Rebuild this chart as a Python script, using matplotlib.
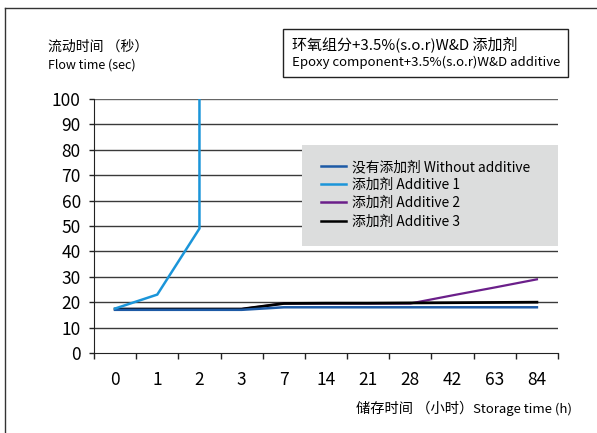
import numpy as np
import matplotlib
matplotlib.use('Agg')
import matplotlib.pyplot as plt
from matplotlib.patches import Rectangle
from matplotlib.lines import Line2D

plt.rcParams['font.family'] = ['Noto Sans CJK SC', 'DejaVu Sans']

## data
storage_labels = ['0', '1', '2', '3', '7', '14', '21', '28', '42', '63', '84']
without_additive = [17, 17, 17, 17, 18, 18, 18, 18, 18, 18, 18]
additive1_idx = [0, 1, 2, 2]
additive1 = [17.5, 23, 49, 100]
additive2 = [17.3, 17.3, 17.3, 17.3, 19.5, 19.5, 19.5, 19.5, 22.7, 25.8, 29]
additive3 = [17.3, 17.3, 17.3, 17.3, 19.5, 19.6, 19.6, 19.7, 19.8, 19.9, 20]
y_ticks = list(range(0, 101, 10))

series_names = ['没有添加剂 Without additive', '添加剂 Additive 1',
                '添加剂 Additive 2', '添加剂 Additive 3']
colors = ['#1d5aa6', '#1b95d9', '#6b1f8a', '#000000']

W, H = 597, 433
fig = plt.figure(figsize=(W / 100, H / 100), dpi=100)

# axes box in pixels: x 94..558, y 99..353
ax = fig.add_axes([94 / W, (H - 353) / H, (558 - 94) / W, (353 - 99) / H])

x = np.arange(len(storage_labels))

# grid lines
for yv in y_ticks[1:]:
    ax.axhline(yv, color='#3a3a3a' if yv < 100 else '#666666', lw=1.0, zorder=1)

ax.plot(x, additive2, color=colors[2], lw=1.6, zorder=3)
ax.plot(x, additive3, color=colors[3], lw=2.0, zorder=4)
ax.plot(x, without_additive, color=colors[0], lw=1.8, zorder=5)
ax.plot(additive1_idx, additive1, color=colors[1], lw=1.8, zorder=6, solid_joinstyle='miter')

ax.set_xlim(-0.5, len(storage_labels) - 0.5)
ax.set_ylim(0, 100)

ax.set_yticks(y_ticks)
ax.set_yticklabels([str(v) for v in y_ticks])
ax.tick_params(axis='y', direction='out', length=3.5, width=1, pad=6,
               labelsize=12.5, color='#222222')
ax.set_xticks(x)
ax.set_xticklabels(storage_labels)
ax.set_xticks(np.arange(len(storage_labels) + 1) - 0.5, minor=True)
ax.tick_params(axis='x', which='major', length=0, pad=13, labelsize=12.5)
ax.tick_params(axis='x', which='minor', direction='out', length=4, width=1,
               color='#222222')

for s in ['top', 'right']:
    ax.spines[s].set_visible(False)
ax.spines['left'].set_color('#222222')
ax.spines['bottom'].set_color('#222222')
ax.spines['left'].set_zorder(7)

# legend panel (grey box covering the grid)
ax.add_patch(Rectangle((0.448, 0.421), 1.0 - 0.448, 0.819 - 0.421,
                       transform=ax.transAxes, facecolor='#dcdddd',
                       edgecolor='none', zorder=8))
handles = [Line2D([], [], color=c, lw=1.8) for c in colors]
leg = ax.legend(handles, series_names, loc='upper left',
                bbox_to_anchor=(0.49, 0.76), frameon=False,
                fontsize=9.9, handlelength=1.8, handletextpad=0.45,
                labelspacing=0.3, borderpad=0, borderaxespad=0)
leg.set_zorder(9)

renderer = fig.canvas.get_renderer()


def mixed_text(x_px, y_px, cjk, latin, cjk_size, latin_size, align='left'):
    # chinese part and latin part drawn at slightly different sizes
    if align == 'left':
        t1 = fig.text(x_px / W, 1 - y_px / H, cjk, fontsize=cjk_size,
                      va='center', ha='left')
        bb = t1.get_window_extent(renderer)
        fig.text(bb.x1 / W, 1 - y_px / H, latin, fontsize=latin_size,
                 va='center', ha='left')
    else:
        t2 = fig.text(x_px / W, 1 - y_px / H, latin, fontsize=latin_size,
                      va='center', ha='right')
        bb = t2.get_window_extent(renderer)
        fig.text(bb.x0 / W, 1 - y_px / H, cjk, fontsize=cjk_size,
                 va='center', ha='right')


# axis titles
fig.text(48 / W, 1 - 47 / H, '流动时间 （秒）', fontsize=10, va='center', ha='left')
fig.text(48 / W, 1 - 65 / H, 'Flow time (sec)', fontsize=9, va='center', ha='left')
mixed_text(572, 409, '储存时间 （小时）', 'Storage time (h)', 10.3, 9.5, align='right')

# title box
fig.patches.append(Rectangle((283 / W, 1 - 77 / H), (568 - 283) / W, (77 - 29) / H,
                             transform=fig.transFigure, facecolor='white',
                             edgecolor='#222222', lw=1))
fig.text(292 / W, 1 - 44 / H, '环氧组分+3.5%(s.o.r)W&D 添加剂', fontsize=10.8,
         va='center', ha='left')
fig.text(292 / W, 1 - 62 / H, 'Epoxy component+3.5%(s.o.r)W&D additive',
         fontsize=9.5, va='center', ha='left')

# outer frame (left and top edges)
fig.add_artist(Line2D([5 / W, 5 / W], [0, 1 - 8 / H], transform=fig.transFigure,
                      color='#333333', lw=1))
fig.add_artist(Line2D([5 / W, 1], [1 - 8 / H, 1 - 8 / H], transform=fig.transFigure,
                      color='#333333', lw=1))

fig.savefig('out.png', dpi=100)
